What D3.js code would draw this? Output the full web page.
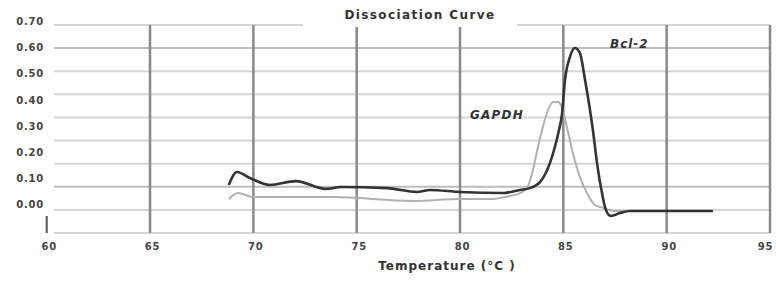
<!DOCTYPE html>
<html>
<head>
<meta charset="utf-8">
<script src="https://cdn.jsdelivr.net/npm/d3@7"></script>
<style>
  body { margin: 0; background: #fff; }
  text { font-family: "DejaVu Sans", sans-serif; }
</style>
</head>
<body>
<div id="chart"></div>
<script>
// melt curve readings (temperature in °C, -dF/dT)
const bclTemp = [68.81, 69.20, 69.83, 70.80, 72.06, 73.51, 74.24, 76.47, 77.92, 78.55, 80.00, 82.08, 82.90, 83.38, 83.87, 84.35, 84.59, 84.79, 84.93, 85.08, 85.32, 85.56, 85.80, 86.05, 86.29, 86.43, 86.63, 86.87, 87.06, 87.30, 87.74, 88.22, 92.24];
const bclValue = [0.073, 0.123, 0.100, 0.073, 0.088, 0.058, 0.065, 0.061, 0.046, 0.054, 0.046, 0.042, 0.054, 0.061, 0.084, 0.157, 0.219, 0.284, 0.342, 0.476, 0.565, 0.599, 0.580, 0.476, 0.361, 0.284, 0.157, 0.042, -0.023, -0.046, -0.035, -0.027, -0.027];

const gapdhTemp = [68.81, 69.25, 69.97, 73.84, 77.71, 80.00, 81.45, 82.42, 82.90, 83.24, 83.53, 83.77, 84.01, 84.26, 84.50, 84.74, 84.93, 85.17, 85.46, 85.80, 86.14, 86.53, 86.92, 87.50, 92.24];
const gapdhValue = [0.019, 0.042, 0.027, 0.027, 0.012, 0.019, 0.019, 0.031, 0.042, 0.061, 0.131, 0.219, 0.296, 0.361, 0.392, 0.392, 0.372, 0.296, 0.196, 0.104, 0.042, -0.004, -0.015, -0.027, -0.027];

const xTicks = [60, 65, 70, 75, 80, 85, 90, 95];
const yTicks = [0, 0.1, 0.2, 0.3, 0.4, 0.5, 0.6, 0.7];
const gridRows = [0, 1, 2, 3, 4, 5, 6, 7, 8, 9];

const width = 776;
const height = 281;

const svg = d3.select("#chart")
    .append("svg")
    .attr("width", width)
    .attr("height", height);

const x = d3.scaleLinear()
    .domain([60, 95])
    .range([46.7, 770]);

const y = d3.scaleLinear()
    .domain([0, 0.7])
    .range([204, 21.7]);

// the horizontal rules in the figure don't line up with the labels
const gridY = d3.scaleLinear()
    .domain([0, 9])
    .range([233, 25]);

// horizontal grid
svg.append("g")
    .selectAll("line")
    .data(gridRows)
    .enter().append("line")
    .attr("x1", 54)
    .attr("x2", 770)
    .attr("y1", d => gridY(d))
    .attr("y2", d => gridY(d))
    .attr("stroke", d => (d === 8 || d === 2) ? "#bdbdbd" : "#d6d6d6")
    .attr("stroke-width", 2);

// vertical grid
svg.append("g")
    .selectAll("line")
    .data(xTicks.slice(1))
    .enter().append("line")
    .attr("x1", d => x(d))
    .attr("x2", d => x(d))
    .attr("y1", gridY(9))
    .attr("y2", gridY(0))
    .attr("stroke", "#8a8a8a")
    .attr("stroke-width", 2.5);

svg.append("line")
    .attr("x1", x(60))
    .attr("x2", x(60))
    .attr("y1", 216)
    .attr("y2", gridY(0))
    .attr("stroke", "#555")
    .attr("stroke-width", 2);

// title with a gap in the top rule
svg.append("rect")
    .attr("x", 303)
    .attr("y", 17)
    .attr("width", 214)
    .attr("height", 10)
    .attr("fill", "#fff");

svg.append("text")
    .attr("x", 420)
    .attr("y", 19)
    .attr("text-anchor", "middle")
    .style("font-size", "12px")
    .style("font-weight", "bold")
    .style("letter-spacing", "1.4px")
    .attr("fill", "#333")
    .text("Dissociation  Curve");

// axes
const yAxis = svg.append("g")
    .attr("transform", "translate(45,0)")
    .call(d3.axisLeft(y).tickValues(yTicks).tickFormat(d3.format(".2f")).tickSize(0));
yAxis.select(".domain").remove();
yAxis.selectAll("text")
    .attr("x", -1)
    .style("font-size", "10px")
    .style("font-weight", "bold")
    .style("letter-spacing", "0.8px")
    .attr("fill", "#444");

const xAxis = svg.append("g")
    .attr("transform", "translate(0,240)")
    .call(d3.axisBottom(x).tickValues(xTicks).tickSize(0));
xAxis.select(".domain").remove();
xAxis.selectAll("text")
    .attr("x", d => d === 95 ? -5 : 2)
    .style("font-size", "10px")
    .style("font-weight", "bold")
    .style("letter-spacing", "0.8px")
    .attr("fill", "#444");

svg.append("text")
    .attr("x", 447)
    .attr("y", 270)
    .attr("text-anchor", "middle")
    .style("font-size", "12px")
    .style("font-weight", "bold")
    .style("letter-spacing", "1px")
    .attr("fill", "#333")
    .text("Temperature (°C )");

// curves
const line = d3.line()
    .x(d => x(d[0]))
    .y(d => y(d[1]))
    .curve(d3.curveMonotoneX);

svg.append("path")
    .datum(d3.zip(gapdhTemp, gapdhValue))
    .attr("d", line)
    .attr("fill", "none")
    .attr("stroke", "#b0b0b0")
    .attr("stroke-width", 2);

svg.append("path")
    .datum(d3.zip(bclTemp, bclValue))
    .attr("d", line)
    .attr("fill", "none")
    .attr("stroke", "#333")
    .attr("stroke-width", 2.6);

// series labels
svg.append("text")
    .attr("x", 470)
    .attr("y", 119)
    .style("font-size", "12px")
    .style("font-weight", "bold")
    .style("font-style", "italic")
    .style("letter-spacing", "1.2px")
    .attr("fill", "#333")
    .text("GAPDH");

svg.append("text")
    .attr("x", 610)
    .attr("y", 48)
    .style("font-size", "12px")
    .style("font-weight", "bold")
    .style("font-style", "italic")
    .style("letter-spacing", "1px")
    .attr("fill", "#333")
    .text("Bcl-2");
</script>
</body>
</html>
